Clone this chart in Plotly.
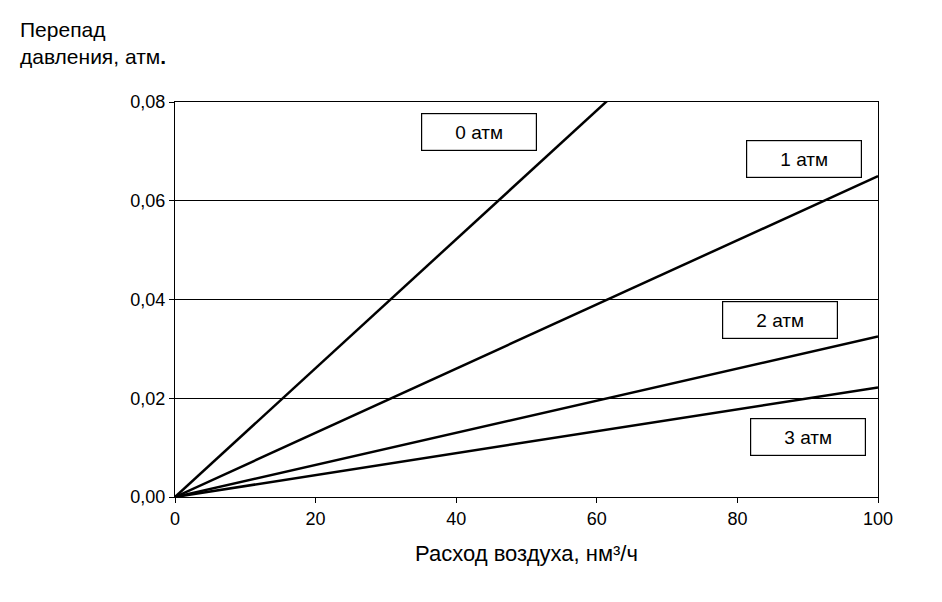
import plotly.graph_objects as go

flow = [0, 100]
series = {
    "0 атм": [0, 0.1305],
    "1 атм": [0, 0.065],
    "2 атм": [0, 0.0325],
    "3 атм": [0, 0.0222],
}
labels = ["0 атм", "1 атм", "2 атм", "3 атм"]
label_x = [43.2, 89.5, 86.1, 90.1]
label_y = [0.0739, 0.0685, 0.0358, 0.0122]

font = "Liberation Sans, Arial, sans-serif"
fig = go.Figure()
for name, ys in series.items():
    fig.add_trace(go.Scatter(x=flow, y=ys, mode="lines", name=name,
                             line=dict(color="black", width=2.5), showlegend=False))
for t, x, y in zip(labels, label_x, label_y):
    fig.add_annotation(x=x, y=y, text=t, showarrow=False, bordercolor="black", borderwidth=1.2,
                       bgcolor="white", width=112, height=34, font=dict(size=19, color="black", family=font))
fig.add_annotation(xref="paper", yref="paper", x=-0.223, y=1.218, xanchor="left", yanchor="top",
                   align="left", showarrow=False,
                   text="Перепад<br>давления, атм<b>.</b>", font=dict(size=21, color="black", family=font))
fig.update_layout(
    width=942, height=602, margin=dict(l=167, r=72, t=94, b=113, autoexpand=False),
    plot_bgcolor="white", paper_bgcolor="white",
    font=dict(family=font, size=18, color="black"),
    xaxis=dict(range=[0, 100], dtick=20, showgrid=False, showline=True, linecolor="black", mirror=True,
               ticks="outside", ticklen=5, tickcolor="black", automargin=False,
               title=dict(text="Расход воздуха, нм³/ч", font=dict(size=22), standoff=18)),
    yaxis=dict(range=[0, 0.08], dtick=0.02, tickformat=".2f", automargin=False,
               showgrid=True, gridcolor="black", gridwidth=1, showline=True, linecolor="black", mirror=True,
               ticks="outside", ticklen=5, tickcolor="black", zeroline=False),
    separators=", ",
)
fig.write_html("out.html")
